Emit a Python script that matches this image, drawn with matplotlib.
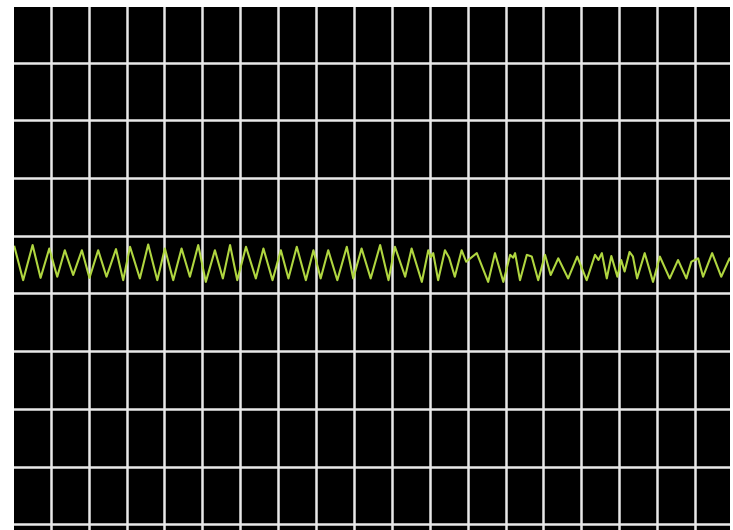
import matplotlib
matplotlib.use("Agg")
import matplotlib.pyplot as plt

# scope trace: time and level in grid divisions
# (time 0 = first vertical grid line, level 0 = fifth horizontal grid line, up is positive)
t_div = [-0.96, -0.73, -0.48, -0.27, -0.04, 0.17, 0.37, 0.59, 0.82, 1.02,
         1.25, 1.47, 1.72, 1.91, 2.09, 2.35, 2.57, 2.81, 3.01, 3.23,
         3.45, 3.67, 3.89, 4.09, 4.33, 4.54, 4.73, 4.92, 5.15, 5.41,
         5.61, 5.85, 6.07, 6.27, 6.49, 6.73, 6.93, 7.12, 7.32, 7.56,
         7.81, 7.98, 8.20, 8.44, 8.69, 8.91, 9.08, 9.35, 9.52, 9.79,
         9.96, 10.03, 10.09, 10.22, 10.40, 10.51, 10.66, 10.84, 10.96, 11.24,
         11.54, 11.72, 11.94, 12.12, 12.20, 12.25, 12.38, 12.56, 12.69, 12.86,
         13.04, 13.19, 13.39, 13.65, 13.89, 14.14, 14.36, 14.45, 14.54, 14.67,
         14.79, 14.95, 15.05, 15.14, 15.27, 15.36, 15.47, 15.67, 15.89, 16.07,
         16.33, 16.55, 16.77, 16.90, 17.08, 17.21, 17.45, 17.69, 17.91, 18.00]
v_div = [0.81, 0.23, 0.84, 0.27, 0.78, 0.29, 0.75, 0.32, 0.75, 0.27,
         0.75, 0.29, 0.77, 0.23, 0.81, 0.26, 0.85, 0.23, 0.78, 0.23,
         0.78, 0.29, 0.84, 0.20, 0.75, 0.26, 0.84, 0.23, 0.81, 0.26,
         0.78, 0.23, 0.75, 0.26, 0.81, 0.23, 0.75, 0.26, 0.75, 0.23,
         0.81, 0.26, 0.78, 0.26, 0.84, 0.23, 0.81, 0.29, 0.78, 0.20,
         0.75, 0.63, 0.70, 0.23, 0.75, 0.62, 0.29, 0.75, 0.55, 0.70,
         0.20, 0.70, 0.20, 0.67, 0.62, 0.70, 0.23, 0.67, 0.64, 0.23,
         0.67, 0.32, 0.61, 0.26, 0.64, 0.23, 0.67, 0.58, 0.70, 0.26,
         0.65, 0.29, 0.58, 0.38, 0.72, 0.64, 0.26, 0.70, 0.20, 0.64,
         0.26, 0.58, 0.26, 0.55, 0.61, 0.29, 0.70, 0.29, 0.61, 0.49]

grid_t = list(range(0, 18))
grid_v = list(range(-4, 5))

fig = plt.figure(figsize=(7.33, 5.30), dpi=100)
ax = fig.add_axes([14 / 733, 0.0, 716 / 733, 523 / 530])
ax.set_facecolor("black")

ax.plot(t_div, v_div, color="#b0d640", linewidth=1.5, solid_joinstyle="round")

ax.set_xlim(-0.971, 17.921)
ax.set_ylim(-4.099, 4.965)
ax.set_xticks(grid_t)
ax.set_yticks(grid_v)
ax.grid(True, color="#e8e8e8", linewidth=1.8)
ax.set_axisbelow(True)
ax.tick_params(length=0, labelbottom=False, labelleft=False)
for s in ax.spines.values():
    s.set_visible(False)

fig.savefig("out.png", dpi=100, facecolor="white")
